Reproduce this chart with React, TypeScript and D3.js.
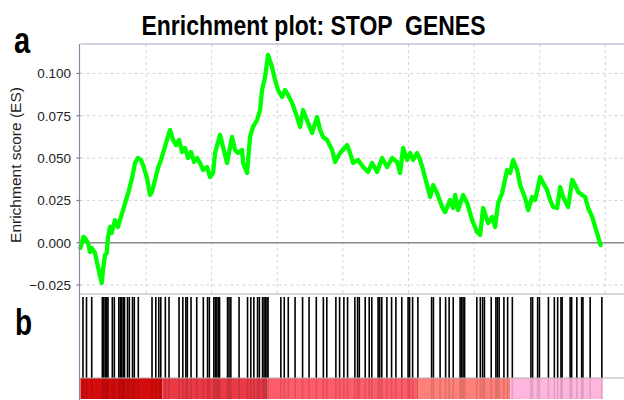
import React from 'react';
import * as d3 from 'd3';

// running enrichment score (rank in ordered list, ES)
const esRank = [
  0, 34, 88, 140, 232, 293, 345, 445, 537, 649, 689, 750, 802, 842, 903, 954, 994, 1055, 1146, 1207,
  1299, 1390, 1482, 1573, 1665, 1756, 1848, 1939, 2031, 2122, 2183, 2275, 2366, 2458, 2549, 2640, 2732,
  2823, 2915, 3006, 3098, 3189, 3281, 3372, 3464, 3555, 3647, 3738, 3860, 3952, 4043, 4104, 4257, 4348,
  4470, 4622, 4714, 4805, 4927, 4958, 5080, 5171, 5263, 5385, 5476, 5537, 5628, 5720, 5842, 5933, 6025,
  6147, 6238, 6330, 6452, 6604, 6696, 6787, 6940, 7062, 7214, 7306, 7397, 7519, 7672, 7763, 7916, 8129,
  8220, 8312, 8464, 8617, 8769, 8891, 9044, 9196, 9349, 9501, 9653, 9745, 9836, 9958, 10050, 10141,
  10263, 10355, 10446, 10660, 10751, 10873, 11025, 11117, 11269, 11361, 11422, 11513, 11666, 11788,
  11940, 12093, 12184, 12276, 12428, 12550, 12641, 12733, 12855, 13007, 13099, 13190, 13312, 13404,
  13556, 13648, 13770, 13861, 14014, 14105, 14227, 14319, 14410, 14532, 14624, 14715, 14868, 14990,
  15081, 15173, 15295, 15386, 15478, 15600, 15691, 15783, 15858,
];
const esValue = [
  -0.0031, -0.0008, 0.0034, 0.0028, -0.0002, -0.0055, -0.0031, -0.0061, -0.0144, -0.0238, -0.0161,
  -0.0073, -0.0061, 0.0034, 0.0093, 0.0057, 0.0087, 0.0134, 0.0093, 0.0134,
  0.0193, 0.0252, 0.0311, 0.0382, 0.0471, 0.0501, 0.0489, 0.0441, 0.0382, 0.0282, 0.03, 0.0371, 0.0441,
  0.0489, 0.0548, 0.0607, 0.0666, 0.0607, 0.0577, 0.0607, 0.0536, 0.056, 0.0501, 0.0536, 0.0477, 0.0501,
  0.0471, 0.043, 0.0447, 0.0388, 0.0412, 0.053, 0.0637, 0.0566, 0.0471, 0.0625, 0.0548, 0.053, 0.0548,
  0.0471, 0.0412, 0.0625, 0.0684, 0.0725, 0.0784, 0.0902, 0.0979, 0.1109, 0.1038, 0.0962, 0.0902,
  0.0861, 0.0902, 0.0873, 0.0826, 0.0743, 0.0684, 0.0784, 0.0707, 0.0648, 0.0743, 0.0666, 0.0625, 0.0607,
  0.0548, 0.0477, 0.053, 0.0577, 0.053, 0.0471, 0.0489, 0.0447, 0.0418, 0.0471, 0.0418, 0.0501, 0.0447,
  0.0501, 0.0477, 0.0412, 0.056, 0.0489, 0.053, 0.0489, 0.053, 0.0489, 0.043, 0.027, 0.0341, 0.0294,
  0.0211, 0.0181, 0.0252, 0.0205, 0.0282, 0.0193, 0.0282, 0.0235, 0.0134, 0.0063, 0.0046, 0.0205, 0.0116,
  0.0152, 0.0093, 0.0235, 0.0294, 0.043, 0.0412, 0.0489, 0.043, 0.0341, 0.0264, 0.0193, 0.027, 0.0252,
  0.0388, 0.0353, 0.0311, 0.0252, 0.0211, 0.0205, 0.0329, 0.027, 0.0211, 0.0371, 0.0341, 0.03, 0.0282,
  0.027, 0.0205, 0.0152, 0.0093, 0.0034, -0.0014,
];

// positions of gene-set members in the ranked list
const hitRanks = [
  79, 186, 345, 668, 713, 759, 805, 842, 973, 1034, 1171, 1217, 1262, 1308, 1345, 1436, 1491, 1589, 1643,
  1765, 2183, 2299, 2390, 2451, 2589, 2701, 3006, 3122, 3214, 3259, 3372, 3546, 3747, 3875, 3930, 4067,
  4113, 4159, 4205, 4241, 4485, 4531, 4586, 4836, 5095, 5195, 5287, 5400, 5455, 5552, 5598, 5644, 5689,
  5720, 6110, 6214, 6336, 6543, 6772, 6970, 7190, 7406, 7510, 7787, 7900, 8031, 8144, 8366, 8449, 8501,
  8681, 8803, 8882, 9074, 9123, 9187, 9342, 9485, 9617, 9796, 9988, 10034, 10126, 10287, 10705, 10760,
  10964, 11132, 11239, 11364, 11574, 11620, 11665, 11711, 12083, 12190, 12260, 12315, 12522, 12665,
  12711, 12763, 12909, 13022, 13166, 13732, 13784, 13937, 13992, 14266, 14446, 14547, 14648, 14684,
  14928, 14974, 15132, 15279, 15318, 15538, 15895,
];

// ranked list metric colour bands
const bandStart = [0, 2500, 5700, 10300, 13100];
const bandEnd = [2500, 5700, 10300, 13100, 15920];
const bandColor = ['#d40c0c', '#ea3a46', '#fd5c68', '#ff8079', '#ffb6de'];

const esTicks = [-0.025, 0, 0.025, 0.05, 0.075, 0.1];
const rankTicks = [2000, 4000, 6000, 8000, 10000, 12000, 14000, 16000];

const W = 624;
const H = 400;
const left = 80.4;
const top = 44;
const mid = 294;
const barBottom = 378;
const heatBottom = 399;

export default function App() {
  const x = d3.scaleLinear().domain([0, 16600]).range([left, 625]);
  const y = d3.scaleLinear().domain([-0.0303, 0.1174]).range([mid, top]);

  const points = esRank.map((r, i) => [r, esValue[i]] as [number, number]);
  const line = d3.line<[number, number]>()
    .x(d => x(d[0]))
    .y(d => y(d[1]));

  const font = '"Liberation Sans", Arial, sans-serif';

  return (
    <svg width={W} height={H} style={{ position: 'absolute', left: 0, top: 0, background: '#fff' }}
      fontFamily={font}>
      {/* title */}
      <text transform="translate(313.5,35) scale(1,1.22)" textAnchor="middle" fontSize={23}
        fontWeight="bold" fill="#000" style={{ whiteSpace: 'pre' }}>Enrichment plot: STOP  GENES</text>
      <text transform="translate(14,53) scale(1,1.25)" fontSize={29} fontWeight="bold">a</text>
      <text transform="translate(15,335) scale(1,1.3)" fontSize={28} fontWeight="bold">b</text>

      {/* grid */}
      {esTicks.filter(t => t !== 0).map(t => (
        <line key={'h' + t} x1={left} x2={W} y1={y(t)} y2={y(t)} stroke="#d4d4d4"
          strokeDasharray="3,3" />
      ))}
      {rankTicks.map(t => (
        <line key={'v' + t} x1={x(t)} x2={x(t)} y1={top} y2={mid} stroke="#d4d4d4"
          strokeDasharray="3,3" />
      ))}
      <line x1={left} x2={W} y1={y(0)} y2={y(0)} stroke="#8a8a8a" strokeWidth={1.5} />

      {/* y axis */}
      {esTicks.map(t => (
        <g key={'t' + t}>
          <line x1={left - 4} x2={left} y1={y(t)} y2={y(t)} stroke="#666" />
          <text x={71} y={y(t) + 5} textAnchor="end" fontSize={13.5} fill="#222">
            {d3.format('.3f')(t)}
          </text>
        </g>
      ))}
      <text transform={`translate(21,${(top + mid) / 2 - 4}) rotate(-90)`} textAnchor="middle"
        fontSize={15.5} fill="#222">Enrichment score (ES)</text>

      {/* running ES */}
      <path d={line(points) || ''} fill="none" stroke="#00ff00" strokeWidth={4.3}
        strokeLinejoin="round" strokeLinecap="round" />

      {/* hits */}
      {hitRanks.map((r, i) => (
        <line key={'k' + i} x1={x(r)} x2={x(r)} y1={mid + 3} y2={barBottom} stroke="#000"
          strokeWidth={1.6} />
      ))}

      {/* ranked list colour bar */}
      {bandColor.map((c, i) => (
        <rect key={'b' + i} x={x(bandStart[i])} y={barBottom} width={x(bandEnd[i]) - x(bandStart[i])}
          height={heatBottom - barBottom} fill={c} />
      ))}
      {hitRanks.map((r, i) => (
        <line key={'s' + i} x1={x(r)} x2={x(r)} y1={barBottom} y2={heatBottom} stroke="#000"
          strokeOpacity={0.12} strokeWidth={1.6} />
      ))}

      {/* frames */}
      <line x1={left} x2={W} y1={top} y2={top} stroke="#a6a6bc" />
      <line x1={left} x2={W} y1={mid} y2={mid} stroke="#b0b0b0" strokeWidth={1.2} />
      <line x1={left} x2={W} y1={barBottom} y2={barBottom} stroke="#b0b0b0" />
      <line x1={79.5} x2={79.5} y1={top} y2={H} stroke="#8a8aa2" strokeWidth={1.2} />
    </svg>
  );
}
